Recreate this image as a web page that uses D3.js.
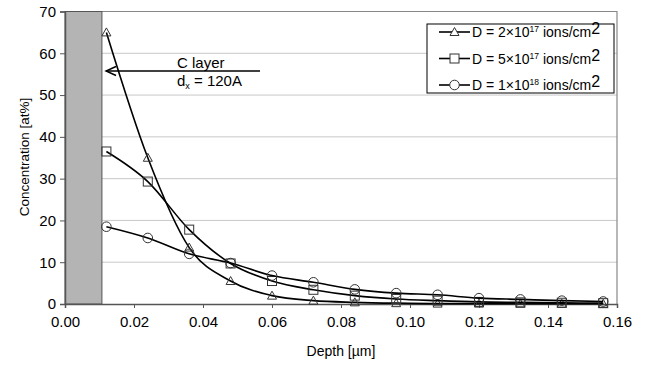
<!DOCTYPE html>
<html>
<head>
<meta charset="utf-8">
<script src="https://cdn.jsdelivr.net/npm/d3@7"></script>
<style>
  body { margin: 0; background: #fff; }
  svg { font-family: "Liberation Sans", Arial, sans-serif; }
</style>
</head>
<body>
<svg id="chart" width="646" height="365"></svg>
<script>
var depth = [0.012, 0.024, 0.036, 0.048, 0.060, 0.072, 0.084, 0.096, 0.108, 0.120, 0.132, 0.144, 0.156];
var dose2e17 = [65, 35, 13.5, 5.5, 2.0, 0.8, 0.4, 0.2, 0.1, 0.1, 0.05, 0.05, 0.05];
var dose5e17 = [36.5, 29.3, 17.8, 9.7, 5.5, 3.4, 2.0, 1.2, 0.8, 0.5, 0.4, 0.3, 0.2];
var dose1e18 = [18.5, 15.8, 12.0, 9.8, 6.8, 5.2, 3.5, 2.6, 2.2, 1.4, 1.1, 0.8, 0.6];
var seriesNames = ["2\u00d710", "5\u00d710", "1\u00d710"];
var seriesExp = ["17", "17", "18"];
var xTicks = [0, 0.02, 0.04, 0.06, 0.08, 0.10, 0.12, 0.14, 0.16];
var yTicks = [0, 10, 20, 30, 40, 50, 60, 70];
var layerDepth = 0.0107;

(function () {
    var svg = d3.select("#chart");
    var left = 65, top = 11.5, right = 617, bottom = 304;

    var x = d3.scaleLinear().domain([0, 0.16]).range([left, right]);
    var y = d3.scaleLinear().domain([0, 70]).range([bottom, top]);

    // gridlines
    svg.append("g")
        .selectAll("line")
        .data(yTicks.filter(d => d > 0 && d < 70))
        .join("line")
        .attr("x1", left).attr("x2", right)
        .attr("y1", d => y(d)).attr("y2", d => y(d))
        .attr("stroke", "#c8c8c8")
        .attr("stroke-width", 1);

    // plot border (top / right)
    svg.append("path")
        .attr("d", `M${left},${top}H${right}V${bottom}`)
        .attr("fill", "none")
        .attr("stroke", "#888")
        .attr("stroke-width", 1.2);

    // C layer bar
    svg.append("rect")
        .attr("x", x(0)).attr("y", y(70))
        .attr("width", x(layerDepth) - x(0))
        .attr("height", y(0) - y(70))
        .attr("fill", "#b4b4b4")
        .attr("stroke", "#555")
        .attr("stroke-width", 1);

    // axes
    var xAxis = svg.append("g")
        .attr("transform", `translate(0,${bottom})`)
        .call(d3.axisBottom(x).tickValues(xTicks).tickFormat(d3.format(".2f")).tickSize(4).tickPadding(8));
    var yAxis = svg.append("g")
        .attr("transform", `translate(${left},0)`)
        .call(d3.axisLeft(y).tickValues(yTicks).tickSize(5).tickPadding(4));
    [xAxis, yAxis].forEach(function (g) {
        g.selectAll("text").attr("font-size", "15px").attr("fill", "#000")
            .attr("font-family", "Liberation Sans, Arial, sans-serif");
        g.select(".domain").attr("stroke", "#555").attr("stroke-width", 1.5);
        g.selectAll(".tick line").attr("stroke", "#555");
    });

    // axis titles
    svg.append("text")
        .attr("x", 341).attr("y", 356)
        .attr("text-anchor", "middle")
        .attr("font-size", "14px")
        .text("Depth [\u00b5m]");
    svg.append("text")
        .attr("transform", "translate(29,157) rotate(-90)")
        .attr("text-anchor", "middle")
        .attr("font-size", "13.5px")
        .text("Concentration [at%]");

    // series
    var series = [dose2e17, dose5e17, dose1e18].map(function (vals, i) {
        return { shape: i, points: vals.map((v, j) => [depth[j], v]) };
    });
    var line = d3.line()
        .x(d => x(d[0])).y(d => y(d[1]))
        .curve(d3.curveMonotoneX);

    function drawMarker(g, shape, cx, cy) {
        if (shape === 0) {
            g.append("path")
                .attr("d", `M${cx},${cy - 4.5}L${cx + 4.5},${cy + 3.5}L${cx - 4.5},${cy + 3.5}Z`);
        } else if (shape === 1) {
            g.append("rect").attr("x", cx - 4.5).attr("y", cy - 4.5).attr("width", 9).attr("height", 9);
        } else {
            g.append("circle").attr("cx", cx).attr("cy", cy).attr("r", 4.8);
        }
    }

    series.forEach(function (s) {
        svg.append("path")
            .attr("d", line(s.points))
            .attr("fill", "none")
            .attr("stroke", "#000")
            .attr("stroke-width", 1.6);
        var mg = svg.append("g").attr("fill", "none").attr("stroke", "#333").attr("stroke-width", 1);
        s.points.forEach(function (p) { drawMarker(mg, s.shape, x(p[0]), y(p[1])); });
    });

    // annotation
    var ay = 71;
    svg.append("line")
        .attr("x1", 260).attr("x2", 106)
        .attr("y1", ay).attr("y2", ay)
        .attr("stroke", "#000").attr("stroke-width", 1.6);
    svg.append("path")
        .attr("d", `M116,${ay - 4.5}L106,${ay}L116,${ay + 4.5}`)
        .attr("fill", "none").attr("stroke", "#000").attr("stroke-width", 1.4);
    svg.append("text").attr("x", 177).attr("y", 68).attr("font-size", "15px").text("C layer");
    var dx = svg.append("text").attr("x", 177).attr("y", 86).attr("font-size", "15px");
    dx.append("tspan").text("d");
    dx.append("tspan").attr("font-size", "9px").attr("dy", 3).text("x");
    dx.append("tspan").attr("dy", -3).text(" = 120A");

    // legend
    var legend = svg.append("g");
    legend.append("rect")
        .attr("x", 427).attr("y", 24).attr("width", 187).attr("height", 69)
        .attr("fill", "#fff").attr("stroke", "#000").attr("stroke-width", 1);
    seriesNames.forEach(function (name, i) {
        var ly = 32 + i * 26.5;
        legend.append("line")
            .attr("x1", 439).attr("x2", 470).attr("y1", ly).attr("y2", ly)
            .attr("stroke", "#000").attr("stroke-width", 1.6);
        var mg = legend.append("g").attr("fill", "#fff").attr("stroke", "#333").attr("stroke-width", 1);
        drawMarker(mg, i, 454.5, ly);
        var t = legend.append("text").attr("x", 472).attr("y", ly + 5).attr("font-size", "14px");
        t.append("tspan").text("D = " + name);
        t.append("tspan").attr("font-size", "8.5px").attr("dy", -5).text(seriesExp[i]);
        t.append("tspan").attr("dy", 5).text(" ions/cm");
        t.append("tspan").attr("dy", -3).attr("font-size", "16px").text("2");
    });
})();
</script>
</body>
</html>
